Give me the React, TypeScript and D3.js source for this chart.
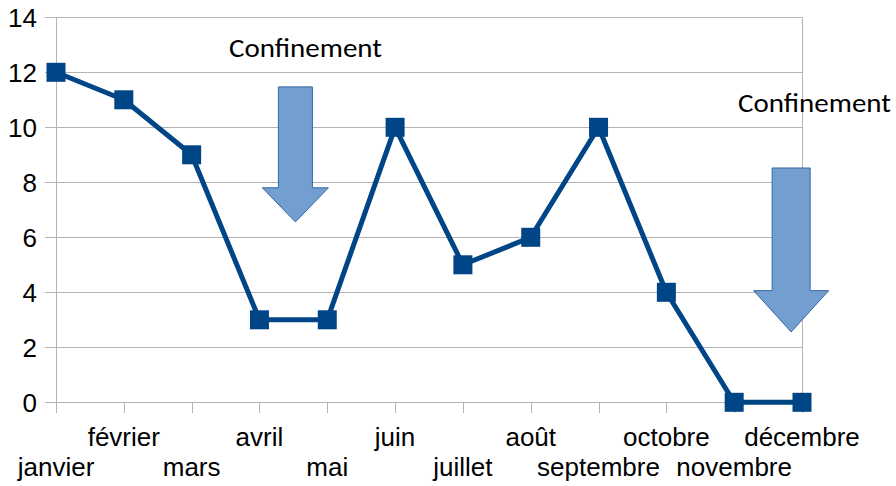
import React, { useEffect, useRef } from 'react';
import * as d3 from 'd3';

const months = ['janvier', 'février', 'mars', 'avril', 'mai', 'juin', 'juillet', 'août', 'septembre', 'octobre', 'novembre', 'décembre'];
const values = [12, 11, 9, 3, 3, 10, 5, 6, 10, 4, 0, 0];
const yTicks = [0, 2, 4, 6, 8, 10, 12, 14];

// annotation labels
const notes = ['Confinement', 'Confinement'];

const App = () => {
  const ref = useRef<SVGSVGElement>(null);

  useEffect(() => {
    const width = 896;
    const height = 486;
    const svg = d3.select(ref.current).attr('width', width).attr('height', height);
    svg.selectAll('*').remove();

    const x = d3.scalePoint<string>().domain(months).range([56, 802]);
    const y = d3.scaleLinear().domain([0, 14]).range([402.3, 17.3]);
    const xi = d3.scaleLinear().domain([0, months.length - 1]).range([56, 802]);

    const font = '"Liberation Sans", Arial, sans-serif';

    // grid
    svg.append('g')
      .selectAll('line')
      .data(yTicks)
      .enter()
      .append('line')
      .attr('x1', 45)
      .attr('x2', 802)
      .attr('y1', d => Math.round(y(d)) + 0.5)
      .attr('y2', d => Math.round(y(d)) + 0.5)
      .attr('stroke', '#b3b3b3')
      .attr('stroke-width', 1);

    // y axis line + right border
    [56, 802].forEach(px => {
      svg.append('line')
        .attr('x1', px + 0.5).attr('x2', px + 0.5)
        .attr('y1', y(14)).attr('y2', 413)
        .attr('stroke', '#b3b3b3');
    });

    // x ticks
    svg.append('g')
      .selectAll('line')
      .data(months)
      .enter()
      .append('line')
      .attr('x1', d => Math.round(x(d)!) + 0.5)
      .attr('x2', d => Math.round(x(d)!) + 0.5)
      .attr('y1', y(0))
      .attr('y2', 413)
      .attr('stroke', '#b3b3b3');

    // y labels
    svg.append('g')
      .selectAll('text')
      .data(yTicks)
      .enter()
      .append('text')
      .attr('x', 37)
      .attr('y', d => y(d))
      .attr('dy', '0.36em')
      .attr('text-anchor', 'end')
      .style('font-family', font)
      .style('font-size', '26px')
      .style('fill', '#000')
      .text(d => d);

    // x labels, staggered
    svg.append('g')
      .selectAll('text')
      .data(months)
      .enter()
      .append('text')
      .attr('x', d => x(d)!)
      .attr('y', (d, i) => (i % 2 === 1 ? 446 : 476))
      .attr('text-anchor', 'middle')
      .style('font-family', font)
      .style('font-size', '26px')
      .style('fill', '#000')
      .text(d => d);

    // arrows
    const arrows = [
      { at: 3.53, top: 11.47, neck: 7.8, tip: 6.56, half: 17, head: 33 },
      { at: 10.84, top: 8.52, neck: 4.06, tip: 2.56, half: 19, head: 37.5 },
    ];
    arrows.forEach(a => {
      const cx = xi(a.at);
      const pts: [number, number][] = [
        [cx - a.half, y(a.top)],
        [cx + a.half, y(a.top)],
        [cx + a.half, y(a.neck)],
        [cx + a.head, y(a.neck)],
        [cx, y(a.tip)],
        [cx - a.head, y(a.neck)],
        [cx - a.half, y(a.neck)],
      ];
      svg.append('path')
        .attr('d', d3.line()(pts) + 'Z')
        .attr('fill', '#729fcf')
        .attr('stroke', '#3465a4')
        .attr('stroke-width', 1);
    });

    // annotation labels
    const labelPos = [
      { x: 229, y: 57 },
      { x: 738, y: 112 },
    ];
    notes.forEach((n, i) => {
      svg.append('text')
        .attr('x', labelPos[i].x)
        .attr('y', labelPos[i].y)
        .style('font-family', 'Carlito, Lato, sans-serif')
        .style('font-size', '26px')
        .style('fill', '#000')
        .attr('textLength', 153)
        .attr('lengthAdjust', 'spacingAndGlyphs')
        .text(n);
    });

    // line
    const line = d3.line<number>()
      .x((d, i) => x(months[i])!)
      .y(d => y(d));

    svg.append('path')
      .datum(values)
      .attr('d', line)
      .attr('fill', 'none')
      .attr('stroke', '#004586')
      .attr('stroke-width', 5)
      .attr('stroke-linejoin', 'round');

    // markers
    const s = 19;
    svg.append('g')
      .selectAll('rect')
      .data(values)
      .enter()
      .append('rect')
      .attr('x', (d, i) => x(months[i])! - s / 2)
      .attr('y', d => y(d) - s / 2)
      .attr('width', s)
      .attr('height', s)
      .attr('fill', '#004586');
  }, []);

  return (
    <div style={{ position: 'absolute', left: 0, top: 0, background: '#fff' }}>
      <svg ref={ref} style={{ display: 'block' }} />
    </div>
  );
};

export default App;
